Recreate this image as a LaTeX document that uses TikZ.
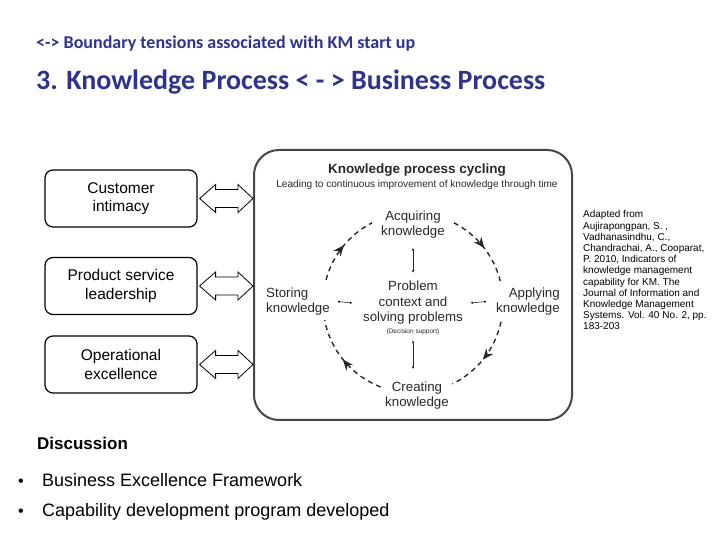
\documentclass[tikz,border=0pt]{standalone}
\usepackage{fontspec}
\setmainfont{Liberation Sans}
\newfontfamily\titlefont{Carlito}
\usetikzlibrary{arrows.meta,calc,decorations.markings}
\definecolor{titleblue}{RGB}{48,50,140}
\definecolor{kptext}{RGB}{40,40,40}
\definecolor{kpframe}{RGB}{70,70,70}
\begin{document}
\begin{tikzpicture}[x=1pt,y=1pt,
  bizbox/.style={draw=black, line width=1.2pt, rounded corners=8pt, minimum width=152pt,
    minimum height=57pt, align=center, inner sep=0pt, font=\fontsize{15.5}{18.5}\selectfont},
  dblarrow/.style={draw=black, line width=0.8pt, fill=white},
  kptxt/.style={text=kptext, inner sep=0pt, font=\fontsize{13.3}{15.5}\selectfont},
  cyc/.style={draw=kptext, line width=1.4pt, dash pattern=on 5pt off 4pt,
    postaction={decorate}, decoration={markings,
      mark=at position 0.52 with {\arrow[kptext]{Stealth[length=11pt,width=9pt]}}}},
  smallarr/.style={draw=kptext, line width=0.6pt, {Latex[length=3pt,width=2.5pt]}-{Latex[length=3pt,width=2.5pt]}},
  bullettxt/.style={anchor=base west, inner sep=0pt, font=\fontsize{18}{21}\selectfont},
  bulletdot/.style={anchor=base west, inner sep=0pt, font=\fontsize{16}{18}\selectfont}
]
\useasboundingbox (0,0) rectangle (728,546);

% titles
\node[anchor=west, inner sep=0pt, text=titleblue, font=\titlefont\bfseries\fontsize{18}{21}\selectfont] (t1) at (36,502) {<-> Boundary tensions associated with KM start up};
\node[anchor=west, inner sep=0pt, text=titleblue, font=\titlefont\bfseries\fontsize{28}{32}\selectfont] (t2) at (36,464) {3. Knowledge Process < - > Business Process};

% big frame
\node[draw=kpframe, line width=2pt, rounded corners=25pt, minimum width=318pt, minimum height=270pt, inner sep=0pt] (kp) at (413,261) {};

% business boxes
\node[bizbox] (c1) at (121,347.5) {Customer\\intimacy};
\node[bizbox] (c2) at (121,260) {Product service\\leadership};
\node[bizbox] (c3) at (121,181.5) {Operational\\excellence};

% double arrows
\foreach \b in {c1,c2,c3}{
  \draw[dblarrow] let \p1=(\b.east), \p2=(kp.west) in
    (\x1+2pt,\y1) -- (\x1+18pt,\y1+14pt) -- (\x1+18pt,\y1+9pt) -- (\x2-15pt,\y1+9pt)
    -- (\x2-15pt,\y1+14pt) -- (\x2,\y1) -- (\x2-15pt,\y1-14pt) -- (\x2-15pt,\y1-9pt)
    -- (\x1+18pt,\y1-9pt) -- (\x1+18pt,\y1-14pt) -- cycle;
}

% inside texts
\node[kptxt, font=\bfseries\fontsize{13.5}{16}\selectfont] (kpt) at (417,376) {Knowledge process cycling};
\node[kptxt, font=\fontsize{10.1}{12}\selectfont] (kps) at (417,361) {Leading to continuous improvement of knowledge through time};
\node[kptxt, align=center] (acq) at (413,321.5) {Acquiring\\knowledge};
\node[kptxt, align=left] (sto) at (298,244.5) {Storing\\knowledge};
\node[kptxt, align=right] (app) at (528,244.5) {Applying\\knowledge};
\node[kptxt, align=center] (prob) at (413,243) {Problem\\context and\\solving problems};
\node[kptxt, font=\fontsize{6.5}{8}\selectfont] (dec) at (413,214) {(Decision support)};
\node[kptxt, align=center] (cre) at (417,150.5) {Creating\\knowledge};

% small arrows
\draw[smallarr] ([yshift=-9pt]acq.south -| prob.north) -- ([yshift=8pt]prob.north);
\draw[smallarr] ([yshift=-5pt]dec.south) -- ([yshift=12pt]cre.north -| dec.south);
\draw[smallarr] ([xshift=7pt]sto.east) -- ([xshift=-10pt]prob.west);
\draw[smallarr] ([xshift=7pt]prob.east) -- ([xshift=-9pt]app.west);

% cycle arcs
\coordinate (ctr) at (413,243);
\draw[cyc] ($(ctr)+(165:90pt)$) arc[start angle=165, end angle=117, radius=90pt];
\draw[cyc] ($(ctr)+(63:90pt)$) arc[start angle=63, end angle=14, radius=90pt];
\draw[cyc] ($(ctr)+(-12:90pt)$) arc[start angle=-12, end angle=-64, radius=90pt];
\draw[cyc] ($(ctr)+(249:90pt)$) arc[start angle=249, end angle=191, radius=90pt];

% citation
\node[anchor=north west, inner sep=0pt, align=left, font=\fontsize{10}{11.2}\selectfont] (cite) at (583,335.5) {Adapted from\\Aujirapongpan, S. ,\\Vadhanasindhu, C.,\\Chandrachai, A., Cooparat,\\P. 2010, Indicators of\\knowledge management\\capability for KM. The\\Journal of Information and\\Knowledge Management\\Systems. Vol. 40 No. 2, pp.\\183-203};

% discussion
\node[anchor=west, inner sep=0pt, font=\bfseries\fontsize{17}{20}\selectfont] (disc) at (37,103) {Discussion};
\node[bulletdot] (b1) at (18,59.5) {•};
\node[bullettxt] (l1) at (42,59.5) {Business Excellence Framework};
\node[bulletdot] (b2) at (18,29.5) {•};
\node[bullettxt] (l2) at (42,29.5) {Capability development program developed};
\end{tikzpicture}
\end{document}
